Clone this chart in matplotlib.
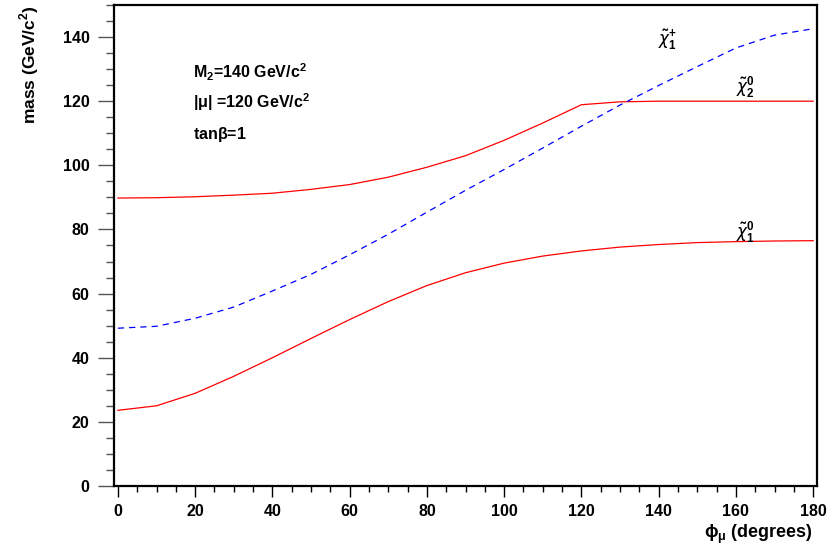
import numpy as np
import matplotlib
matplotlib.use("Agg")
import matplotlib.pyplot as plt
from matplotlib.ticker import MultipleLocator

plt.rcParams['font.family'] = ['Liberation Sans', 'DejaVu Sans']
plt.rcParams['mathtext.fontset'] = 'custom'
plt.rcParams['mathtext.rm'] = 'Liberation Sans:bold'
plt.rcParams['mathtext.it'] = 'DejaVu Sans:italic'
plt.rcParams['mathtext.bf'] = 'Liberation Sans:bold'

# phase of mu (degrees)
phi = [0, 10, 20, 30, 40, 50, 60, 70, 80, 90, 100, 110, 120, 130, 140, 150, 160, 170, 180]

# masses (GeV/c^2)
chi1_0 = [23.6, 25.0, 28.9, 34.2, 40.0, 46.0, 51.9, 57.5, 62.5, 66.5, 69.5, 71.7, 73.3,
          74.5, 75.3, 75.9, 76.2, 76.4, 76.5]
chi2_0 = [89.8, 89.9, 90.2, 90.7, 91.3, 92.5, 94.0, 96.3, 99.4, 103.0, 107.8, 113.2, 118.9,
          119.8, 120.0, 120.0, 120.0, 120.0, 120.0]
chi1_p = [49.2, 49.8, 52.3, 55.8, 60.8, 66.0, 72.1, 78.5, 85.4, 92.2, 98.7, 105.4, 112.2,
          118.8, 124.9, 130.8, 136.6, 140.6, 142.6]

fig = plt.figure(figsize=(8.31, 5.49), dpi=100)
ax = fig.add_axes([0.1372, 0.1148, 0.846, 0.8761])

ax.plot(phi, chi2_0, color='red', lw=0.9)
ax.plot(phi, chi1_0, color='red', lw=0.9)
ax.plot(phi, chi1_p, color='blue', lw=0.9, dashes=(5, 4))

ax.set_xlim(-1, 181)
ax.set_ylim(0, 150)

# ticks
ax.xaxis.set_major_locator(MultipleLocator(20))
ax.xaxis.set_minor_locator(MultipleLocator(5))
ax.yaxis.set_major_locator(MultipleLocator(20))
ax.yaxis.set_minor_locator(MultipleLocator(5))
ax.tick_params(axis='x', which='major', direction='out', length=8, width=1, pad=5,
               labelsize=11.5, colors='black')
ax.tick_params(axis='x', which='minor', direction='out', length=4.5, width=1)
ax.tick_params(axis='y', which='major', direction='out', length=11.5, width=1, pad=6,
               labelsize=11.5, color='#555555')
ax.tick_params(axis='y', which='minor', direction='out', length=6, width=1, color='#555555')
for lab in ax.get_xticklabels() + ax.get_yticklabels():
    lab.set_fontweight('bold')

for s in ax.spines.values():
    s.set_linewidth(1.6)

# axis titles
fig.text(0.035, 0.99, 'mass (GeV/c$^2$)', rotation=90, ha='center', va='top',
         fontsize=12.5, fontweight='bold')
fig.text(0.978, 0.005, r'$\mathrm{\phi_\mu}$ (degrees)', ha='right', va='bottom',
         fontsize=13, fontweight='bold')

# parameter text
ax.text(0.113, 0.861, 'M$_2$=140 GeV/c$^2$', transform=ax.transAxes, fontsize=11.5,
        fontweight='bold', va='center')
ax.text(0.113, 0.797, r'|$\mathrm{\mu}$| =120 GeV/c$^2$', transform=ax.transAxes, fontsize=11.5,
        fontweight='bold', va='center')
ax.text(0.113, 0.730, r'tan$\mathrm{\beta}$=1', transform=ax.transAxes, fontsize=11.5,
        fontweight='bold', va='center')

# curve labels
ax.text(142.4, 139.1, r'$\tilde{\chi}^{+}_{1}$', fontsize=12, ha='center', va='center')
ax.text(162.4, 124.4, r'$\tilde{\chi}^{0}_{2}$', fontsize=12, ha='center', va='center')
ax.text(162.4, 79.2, r'$\tilde{\chi}^{0}_{1}$', fontsize=12, ha='center', va='center')

fig.savefig('out.png', dpi=100)
